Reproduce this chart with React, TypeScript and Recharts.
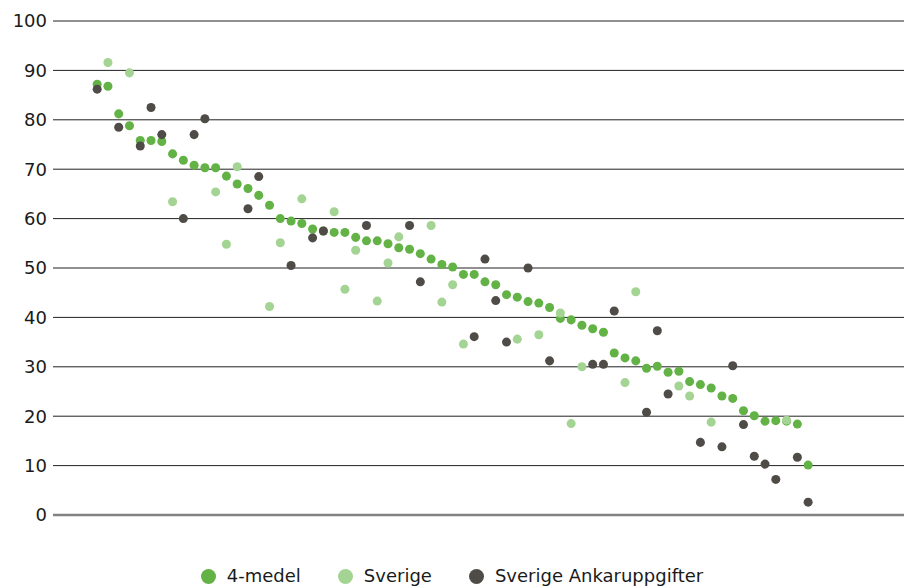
import React from 'react';
import {
  ScatterChart,
  Scatter,
  XAxis,
  YAxis,
  ZAxis,
  CartesianGrid,
  ReferenceLine
} from 'recharts';

// 4-medel, one value per position 1..67
const medelValues = [
  87.2, 86.8, 81.2, 78.8, 75.8, 75.8, 75.6, 73.1, 71.8, 70.8,
  70.3, 70.3, 68.6, 67.0, 66.1, 64.7, 62.7, 60.0, 59.5, 59.0,
  57.9, 57.5, 57.2, 57.2, 56.2, 55.5, 55.5, 54.9, 54.1, 53.8,
  52.9, 51.8, 50.7, 50.2, 48.7, 48.7, 47.2, 46.6, 44.6, 44.1,
  43.2, 42.9, 42.0, 39.8, 39.5, 38.4, 37.7, 37.0, 32.8, 31.8,
  31.2, 29.7, 30.1, 28.9, 29.1, 27.0, 26.4, 25.7, 24.1, 23.6,
  21.1, 20.1, 19.0, 19.1, 19.0, 18.4, 10.1
];

// Sverige
const sverigePos = [2, 4, 8, 12, 13, 14, 17, 18, 20, 23, 24, 25, 27, 28, 29, 32, 33, 34, 35, 40, 42, 44, 45, 46, 50, 51, 55, 56, 58, 65];
const sverigeValues = [91.6, 89.5, 63.4, 65.4, 54.8, 70.5, 42.2, 55.1, 64.0, 61.4, 45.7, 53.6, 43.3, 51.0, 56.3, 58.6, 43.1, 46.6, 34.6, 35.6, 36.5, 40.9, 18.5, 30.0, 26.8, 45.2, 26.1, 24.1, 18.8, 19.2];

// Sverige Ankaruppgifter
const ankarPos = [1, 3, 5, 6, 7, 9, 10, 11, 15, 16, 19, 21, 22, 26, 30, 31, 36, 37, 38, 39, 41, 43, 47, 48, 49, 52, 53, 54, 57, 59, 60, 61, 62, 63, 64, 66, 67];
const ankarValues = [86.2, 78.5, 74.7, 82.5, 77.0, 60.0, 77.0, 80.2, 62.0, 68.5, 50.5, 56.1, 57.5, 58.6, 58.6, 47.2, 36.1, 51.8, 43.4, 35.0, 50.0, 31.2, 30.5, 30.5, 41.3, 20.8, 37.3, 24.5, 14.7, 13.8, 30.2, 18.3, 11.9, 10.3, 7.2, 11.7, 2.6];

const yTicks = [0, 10, 20, 30, 40, 50, 60, 70, 80, 90, 100];

const series = [
  { name: '4-medel', color: '#62b246' },
  { name: 'Sverige', color: '#a4d493' },
  { name: 'Sverige Ankaruppgifter', color: '#4f4c48' }
];

const medelData = medelValues.map((y, i) => ({ x: i + 1, y }));
const sverigeData = sverigePos.map((x, i) => ({ x, y: sverigeValues[i] }));
const ankarData = ankarPos.map((x, i) => ({ x, y: ankarValues[i] }));

const font = '"DejaVu Sans", sans-serif';

export default function App() {
  return (
    <div style={{ position: 'absolute', left: 0, top: 0, width: 904, height: 587, background: '#fff', fontFamily: font }}>
      <ScatterChart width={904} height={587} margin={{ top: 21, right: 0, bottom: 72, left: 0 }}>
        <CartesianGrid vertical={false} stroke="#222" strokeWidth={1} />
        <XAxis type="number" dataKey="x" domain={[-3.1, 75.9]} hide />
        <YAxis
          type="number"
          dataKey="y"
          domain={[0, 100]}
          ticks={yTicks}
          width={53}
          axisLine={false}
          tickLine={false}
          tickSize={4}
          tick={{ fill: '#1a1a1a', fontSize: 18, fontFamily: font }}
        />
        <ZAxis range={[95, 95]} />
        <ReferenceLine y={0} stroke="#828282" strokeWidth={2.5} />
        <Scatter data={medelData} fill={series[0].color} isAnimationActive={false} />
        <Scatter data={sverigeData} fill={series[1].color} isAnimationActive={false} />
        <Scatter data={ankarData} fill={series[2].color} isAnimationActive={false} />
      </ScatterChart>
      <div
        style={{
          position: 'absolute',
          left: 0,
          top: 565,
          width: 904,
          display: 'flex',
          justifyContent: 'center',
          alignItems: 'center',
          gap: 37,
          fontSize: 18,
          color: '#1a1a1a',
          lineHeight: '22px'
        }}
      >
        {series.map(s => (
          <div key={s.name} style={{ display: 'flex', alignItems: 'center' }}>
            <span style={{ width: 15, height: 15, borderRadius: '50%', background: s.color, marginRight: 11, display: 'inline-block' }} />
            <span>{s.name}</span>
          </div>
        ))}
      </div>
    </div>
  );
}
